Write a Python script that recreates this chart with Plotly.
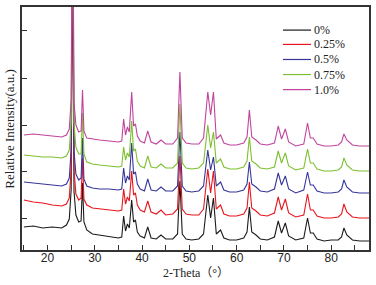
import plotly.graph_objects as go

two_theta = [15, 17, 19, 21, 23, 24, 24.6, 25.0, 25.3, 25.6, 26.0, 26.6, 27.1, 27.4, 27.7, 28.3,
             29.5, 31, 33, 35, 35.7, 36.1, 36.5, 36.9, 37.3, 37.8, 38.2, 38.6, 39.0, 39.6,
             40.5, 41.2, 41.9, 43, 44.0, 45, 46.5, 47.5, 48.0, 48.5, 49.3,
             50.5, 52, 53.0, 53.9, 54.5, 55.1, 55.7, 56.6, 57.3,
             58.5, 60, 61.5, 62.2, 62.7, 63.2, 64.1, 65,
             66.5, 68.0, 68.8, 69.5, 70.3, 71.0, 72.5, 74.2, 75.0, 75.6, 76.2, 77.0,
             78.5, 80, 81.5, 82.2, 82.7, 83.3, 84.5, 86, 88]

int_0 = [23, 24, 22, 23, 22, 25, 31, 60, 325, 59, 35, 28, 29, 67, 28, 20,
         16, 15, 13, 12, 13, 34, 19, 26, 22, 50, 28, 30, 18, 14,
         12, 23, 12, 11, 15, 11, 11, 16, 69, 16, 11,
         10, 11, 16, 55, 32, 52, 16, 20, 12,
         10, 10, 12, 18, 43, 18, 15, 11,
         10, 13, 29, 17, 27, 14, 10, 12, 32, 17, 17, 11,
         9, 10, 10, 13, 22, 15, 10, 9, 9]

int_025 = [50, 48, 47, 45, 44, 46, 52, 81, 346, 80, 56, 50, 52, 92, 51, 45,
           42, 41, 40, 39, 40, 61, 46, 53, 49, 79, 55, 57, 45, 40,
           38, 49, 38, 36, 40, 35, 36, 41, 94, 41, 36,
           35, 35, 41, 81, 57, 79, 41, 45, 36,
           34, 34, 36, 42, 68, 42, 39, 35,
           34, 37, 53, 40, 51, 37, 33, 35, 56, 40, 40, 34,
           32, 32, 33, 36, 46, 38, 33, 32, 32]

int_05 = [68, 67, 66, 65, 64, 66, 72, 100, 365, 99, 76, 70, 72, 112, 71, 64,
          62, 61, 61, 60, 61, 82, 67, 74, 70, 107, 76, 78, 66, 61,
          59, 71, 60, 59, 63, 59, 59, 64, 118, 64, 59,
          58, 59, 64, 100, 80, 93, 64, 68, 60,
          58, 58, 60, 66, 88, 66, 63, 59,
          58, 61, 77, 65, 74, 61, 57, 60, 78, 65, 65, 59,
          57, 57, 58, 61, 70, 63, 58, 57, 57]

int_075 = [95, 94, 93, 93, 92, 94, 100, 129, 394, 127, 103, 96, 96, 137, 96, 88,
           86, 85, 84, 83, 84, 103, 90, 97, 93, 129, 99, 101, 89, 84,
           82, 94, 83, 82, 86, 82, 82, 87, 146, 87, 82,
           81, 82, 87, 125, 102, 118, 87, 91, 83,
           81, 81, 83, 89, 113, 89, 86, 82,
           81, 83, 99, 87, 97, 84, 80, 82, 101, 87, 87, 81,
           79, 79, 80, 83, 92, 85, 80, 79, 79]

int_10 = [115, 116, 115, 114, 113, 115, 121, 150, 415, 148, 125, 118, 119, 160, 119, 112,
          111, 110, 109, 108, 109, 131, 115, 123, 118, 158, 124, 126, 114, 109,
          107, 119, 108, 106, 110, 106, 106, 112, 178, 112, 107,
          106, 106, 112, 158, 135, 158, 111, 115, 107,
          105, 105, 107, 113, 140, 113, 110, 106,
          105, 107, 124, 111, 121, 108, 104, 106, 127, 112, 112, 106,
          104, 104, 105, 108, 116, 110, 105, 104, 104]

names = ["0%", "0.25%", "0.5%", "0.75%", "1.0%"]
series = [int_0, int_025, int_05, int_075, int_10]
colors = ["#1a1a1a", "#e8141c", "#35359a", "#7dbf2e", "#c0449c"]

x_ticks = [20, 30, 40, 50, 60, 70, 80]
y_ticks = [32, 79, 125, 172, 220]

fig = go.Figure()
for name, ys, c in zip(names, series, colors):
    fig.add_trace(go.Scatter(x=two_theta, y=ys, mode="lines", name=name,
                             line=dict(color=c, width=1.1), showlegend=False))

# manual legend (compact spacing as in the reference)
leg_y = [0.905, 0.846, 0.784, 0.722, 0.660]
for name, c, ly in zip(names, colors, leg_y):
    fig.add_shape(type="line", xref="paper", yref="paper", x0=0.752, x1=0.833, y0=ly, y1=ly,
                  line=dict(color=c, width=1.2))
    fig.add_annotation(xref="paper", yref="paper", x=0.838, y=ly, text=name, showarrow=False,
                       xanchor="left", yanchor="middle", borderpad=0,
                       font=dict(family="Liberation Serif", size=12, color="#222"))

fig.add_annotation(xref="paper", yref="paper", x=0.5, y=-0.094, text="2-Theta（°）",
                   showarrow=False, xanchor="center", yanchor="middle", borderpad=0,
                   font=dict(family="Liberation Serif, Noto Sans CJK SC", size=12, color="#222"))
fig.add_annotation(xref="paper", yref="paper", x=-0.037, y=0.5, text="Relative Intensity(a.u.)",
                   showarrow=False, xanchor="center", yanchor="middle", textangle=-90,
                   font=dict(family="Liberation Serif", size=13, color="#222"))

fig.update_layout(
    width=376, height=285,
    margin=dict(l=22, r=7, t=7, b=35),
    plot_bgcolor="white", paper_bgcolor="white",
    showlegend=False,
)
fig.update_xaxes(range=[14.6, 88], tickvals=x_ticks, ticks="inside", ticklen=5,
                 tickcolor="#333", showline=True, linecolor="#333", linewidth=1.5,
                 mirror=True, showgrid=False, zeroline=False, automargin=False,
                 ticklabelstandoff=-4,
                 minor=dict(dtick=5, tick0=0, ticks="inside", ticklen=5, tickcolor="#333"),
                 tickfont=dict(family="Liberation Sans", size=12, color="#222"))
fig.update_yaxes(range=[0, 243], tickvals=y_ticks, ticks="inside", ticklen=5, showticklabels=False,
                 tickcolor="#333", showline=True, linecolor="#333", linewidth=1.5,
                 mirror=True, showgrid=False, zeroline=False, automargin=False)

fig.write_html("out.html", config={"displayModeBar": False},
               post_script="document.body.style.margin='0';")
